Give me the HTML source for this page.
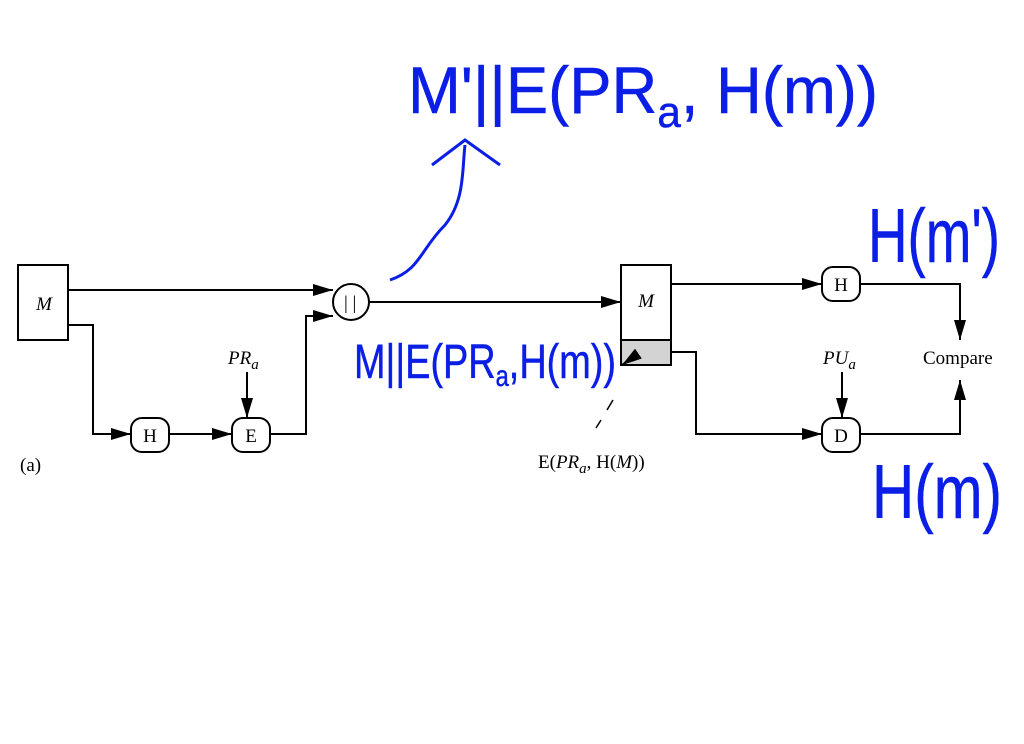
<!DOCTYPE html>
<html><head><style>
body{margin:0;background:#fff}
svg{display:block}
.t{font-family:"Liberation Serif",serif;font-size:19px;fill:#000}
.h{font-family:"Liberation Sans",sans-serif;fill:none;stroke:#0a1ee6;stroke-width:3;font-weight:normal}
</style></head><body>
<svg width="1024" height="744" viewBox="0 0 1024 744" xmlns="http://www.w3.org/2000/svg">
<defs><marker id="a" markerWidth="10" markerHeight="8" refX="10" refY="4" orient="auto" markerUnits="userSpaceOnUse"><path d="M0,0 L18,4 L0,8z" transform="scale(0.56,1)"/></marker>
<marker id="b" viewBox="0 0 20 12" markerWidth="20" markerHeight="12" refX="20" refY="6" orient="auto" markerUnits="userSpaceOnUse"><path d="M0,0 L20,6 L0,12z"/></marker></defs>
<g stroke="#000" stroke-width="2" fill="none">
<rect x="18" y="265" width="50" height="75" fill="#fff"/>
<path d="M68,290 H333" marker-end="url(#b)"/>
<path d="M68,325 H93 V434 H131" marker-end="url(#b)"/>
<rect x="131" y="418" width="38" height="34" rx="11" fill="#fff"/>
<path d="M169,434 H232" marker-end="url(#b)"/>
<rect x="232" y="418" width="38" height="34" rx="11" fill="#fff"/>
<path d="M247,372 V418" marker-end="url(#b)"/>
<path d="M270,434 H306 V316 H333" marker-end="url(#b)"/>
<circle cx="351" cy="302" r="18" fill="#fff"/>
<path d="M369,302 H621" marker-end="url(#b)"/>
<rect x="621" y="265" width="50" height="100" fill="#fff"/>
<rect x="621" y="340" width="50" height="25" fill="#d3d3d3"/>
<path d="M671,284 H822" marker-end="url(#b)"/>
<rect x="822" y="267" width="38" height="34" rx="11" fill="#fff"/>
<path d="M860,284 H960 V340" marker-end="url(#b)"/>
<path d="M671,352 H696 V434 H822" marker-end="url(#b)"/>
<rect x="822" y="418" width="38" height="34" rx="11" fill="#fff"/>
<path d="M842,372 V418" marker-end="url(#b)"/>
<path d="M860,434 H960 V380" marker-end="url(#b)"/>
<path d="M596,428 L601,420 M607,410 L613,400" stroke-width="1.5"/>
<path d="M635,356 L622,365" marker-end="url(#b)"/>
</g>
<text class="t" x="44" y="310" text-anchor="middle" font-style="italic">M</text>
<text class="t" x="646" y="307" text-anchor="middle" font-style="italic">M</text>
<text class="t" x="344" y="309" font-size="16">| |</text>
<text class="t" x="150" y="442" text-anchor="middle">H</text>
<text class="t" x="251" y="442" text-anchor="middle">E</text>
<text class="t" x="841" y="291" text-anchor="middle">H</text>
<text class="t" x="841" y="442" text-anchor="middle">D</text>
<text class="t" x="228" y="364" font-style="italic">PR<tspan font-size="15" dy="5">a</tspan></text>
<text class="t" x="823" y="364" font-style="italic">PU<tspan font-size="15" dy="5">a</tspan></text>
<text class="t" x="923" y="364">Compare</text>
<text class="t" x="20" y="471">(a)</text>
<text class="t" x="538" y="468">E(<tspan font-style="italic">PR</tspan><tspan font-size="15" dy="5" font-style="italic">a</tspan><tspan dy="-5">, H(</tspan><tspan font-style="italic">M</tspan>))</text>
<g class="h">
<text x="408" y="113" font-size="66" textLength="470" lengthAdjust="spacingAndGlyphs" fill="#0a1ee6" stroke-width="0.5">M'||E(PR<tspan font-size="44" dy="14">a</tspan><tspan dy="-14">, H(m))</tspan></text>
<text x="354" y="378" font-size="48" textLength="262" lengthAdjust="spacingAndGlyphs" fill="#0a1ee6" stroke-width="0.5">M||E(PR<tspan font-size="30" dy="8">a</tspan><tspan dy="-8">,H(m))</tspan></text>
<text x="868" y="262" font-size="76" textLength="132" lengthAdjust="spacingAndGlyphs" fill="#0a1ee6" stroke-width="0.5">H(m')</text>
<text x="872" y="518" font-size="76" textLength="130" lengthAdjust="spacingAndGlyphs" fill="#0a1ee6" stroke-width="0.5">H(m)</text>
<path d="M390,280 C420,270 420,250 445,225 C465,200 462,170 465,145 M432,165 L465,140 L500,165" stroke-width="3"/>
</g>
</svg>
</body></html>
